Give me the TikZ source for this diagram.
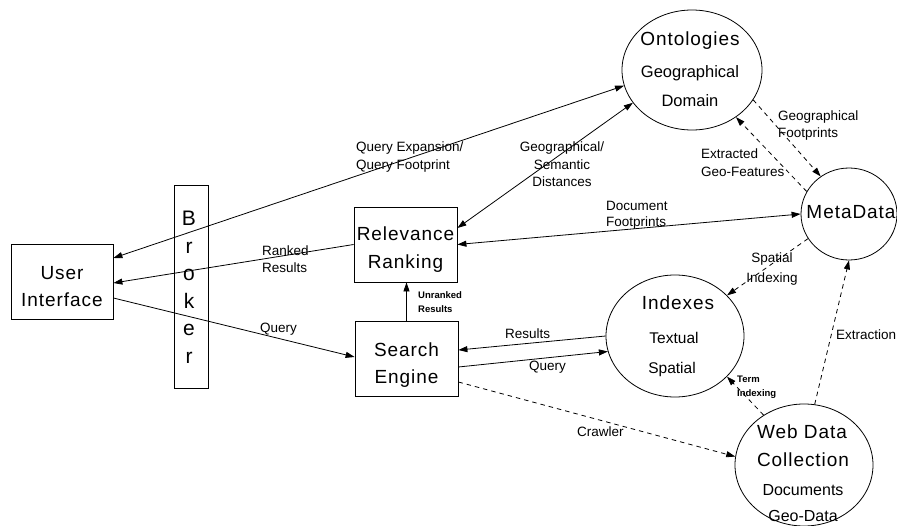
\documentclass[tikz,border=0pt]{standalone}
\usepackage{fontspec}
\setmainfont{Liberation Sans}
\newfontfamily\bigfont[LetterSpace=5]{Liberation Sans}
\usetikzlibrary{shapes.geometric,arrows.meta}
\begin{document}
\begin{tikzpicture}[x=1pt,y=-1pt,
  box/.style={draw,rectangle,inner sep=0pt,line width=0.8pt},
  oval/.style={draw,ellipse,inner sep=0pt,line width=0.8pt},
  title/.style={font=\bigfont\fontsize{19}{22}\selectfont,inner sep=0pt,anchor=base},
  sub/.style={font=\fontsize{16}{18}\selectfont,inner sep=0pt,anchor=base},
  lbl/.style={font=\fontsize{13.5}{17.5}\selectfont,inner sep=0pt,align=left,anchor=north west},
  clbl/.style={font=\fontsize{13.5}{17.5}\selectfont,inner sep=0pt,align=center,anchor=north},
  tinylbl/.style={font=\bfseries\fontsize{9.5}{14.5}\selectfont,inner sep=0pt,align=left,anchor=north west},
  conn/.style={line width=0.8pt,-{Triangle[length=9pt,width=6pt]}},
  both/.style={line width=0.8pt,{Triangle[length=9pt,width=6pt]}-{Triangle[length=9pt,width=6pt]}},
  dconn/.style={conn,dash pattern=on 4.5pt off 4pt},
]
\fill[white] (0,0) rectangle (897,525);
\useasboundingbox (0,0) rectangle (897,525);

% boxes
\node[box,minimum width=102pt,minimum height=75pt] (ui) at (62,281.5) {};
\node[title] (uit1) at (62,279) {User};
\node[title] (uit2) at (62,306.5) {Interface};

\node[box,minimum width=34pt,minimum height=203pt] (brk) at (191,286.5) {};
\node[font=\fontsize{21}{27.5}\selectfont,inner sep=0pt,align=center,anchor=north] (brkt) at (189,211) {B\\r\\o\\k\\e\\r};

\node[box,minimum width=103pt,minimum height=75pt] (rr) at (405.5,244.5) {};
\node[title] (rrt1) at (405.5,240.5) {Relevance};
\node[title] (rrt2) at (405.5,268) {Ranking};

\node[box,minimum width=103pt,minimum height=75pt] (se) at (406.5,358.5) {};
\node[title] (set1) at (406.5,356) {Search};
\node[title] (set2) at (406.5,383) {Engine};

% ellipses
\node[oval,minimum width=140pt,minimum height=120pt] (ont) at (692,70) {};
\node[title] (ontt1) at (690,45) {Ontologies};
\node[sub,font=\fontsize{16.5}{18}\selectfont] (ontt2) at (690,77) {Geographical};
\node[sub,font=\fontsize{16.5}{18}\selectfont] (ontt3) at (690,106.5) {Domain};

\node[oval,minimum width=96pt,minimum height=92pt] (md) at (849,214) {};
\node[title] (mdt) at (851,218) {MetaData};

\node[oval,minimum width=138pt,minimum height=122pt] (idx) at (675,336) {};
\node[title] (idxt1) at (678,309) {Indexes};
\node[sub,font=\fontsize{15.5}{18}\selectfont] (idxt2) at (674,343) {Textual};
\node[sub,font=\fontsize{15.5}{18}\selectfont] (idxt3) at (672,373) {Spatial};

\node[oval,minimum width=138pt,minimum height=122pt] (wdc) at (804,465) {};
\node[title] (wdct1) at (802,438) {Web Data};
\node[title] (wdct2) at (803,466.5) {Collection};
\node[sub] (wdct3) at (803,495) {Documents};
\node[sub] (wdct4) at (803,521.5) {Geo-Data};

% connectors
\draw[both] ([yshift=23.5pt]ui.east) -- (ont.193);
\draw[both] ([yshift=16.5pt]rr.east) -- (ont.209);
\draw[both] (rr.east) -- (md.west);
\draw[conn] (rr.west) -- ([yshift=-1.5pt]ui.east);
\draw[conn] ([yshift=-16.5pt]ui.east) -- ([yshift=1.5pt]se.west);
\draw[conn] (se.north) -- (se.north |- rr.south);
\draw[conn] (idx.west) -- ([yshift=8.5pt]se.east);
\draw[conn] ([yshift=-8.5pt]se.east) -- (idx.193);
\draw[dconn] ([yshift=-23.5pt]se.east) -- (wdc.173);
\draw[dconn] (wdc.80) -- (md.south);
\draw[dconn] (wdc.129) -- (idx.-38);
\draw[dconn] (md.211) -- (idx.38);
\draw[dconn] (ont.-26) -- (md.127);
\draw[dconn] (md.152) -- (ont.-47);

% labels
\node[lbl] (l1) at (356,142) {Query Expansion/\\Query Footprint};
\node[clbl] (l2) at (562,142) {Geographical/\\Semantic\\Distances};
\node[lbl,font=\fontsize{13.5}{16}\selectfont] (l3) at (606,201) {Document\\Footprints};
\node[lbl] (l4) at (262,245.5) {Ranked\\Results};
\node[lbl] (l5) at (260,323) {Query};
\node[tinylbl] (l6) at (418,291) {Unranked\\Results};
\node[lbl] (l7) at (505,329) {Results};
\node[lbl] (l8) at (529,361) {Query};
\node[lbl] (l9) at (577,427) {Crawler};
\node[lbl] (l10) at (836,330) {Extraction};
\node[tinylbl] (l11) at (737,375.5) {Term\\Indexing};
\node[clbl,font=\fontsize{13.5}{20}\selectfont] (l12) at (772,253) {Spatial\\Indexing};
\node[lbl,font=\fontsize{13.5}{16.5}\selectfont] (l13) at (778,111) {Geographical\\Footprints};
\node[lbl] (l14) at (701,149) {Extracted\\Geo-Features};
\end{tikzpicture}
\end{document}
